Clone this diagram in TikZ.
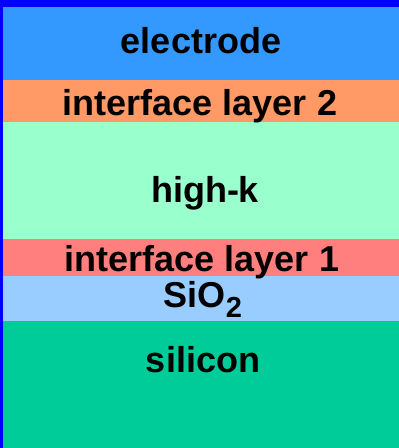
\documentclass[tikz,border=0pt]{standalone}
\usepackage{fontspec}
\setmainfont{Liberation Sans}
\definecolor{frameblue}{HTML}{0000FF}
\definecolor{electrodec}{HTML}{3399FF}
\definecolor{ifacetwo}{HTML}{FF9966}
\definecolor{highkc}{HTML}{99FFCC}
\definecolor{ifaceone}{HTML}{FF7F7F}
\definecolor{oxidec}{HTML}{99CCFF}
\definecolor{siliconc}{HTML}{00CC99}
\begin{document}
\begin{tikzpicture}[x=1pt,y=-1pt,
  layertext/.style={anchor=base,inner sep=0pt,font=\fontsize{36}{40}\selectfont\bfseries}]
\useasboundingbox (0,0) rectangle (399,448);
% outer frame
\fill[frameblue] (0,0) rectangle (399,448);
% film stack, top to bottom
\fill[electrodec] (3,7)   rectangle (399,80);
\fill[ifacetwo]   (3,80)  rectangle (399,122);
\fill[highkc]     (3,122) rectangle (399,239);
\fill[ifaceone]   (3,239) rectangle (399,276);
\fill[oxidec]     (3,276) rectangle (399,321);
\fill[siliconc]   (3,321) rectangle (399,448);
% layer labels
\node[layertext] (electrode) at (201,53)  {electrode};
\node[layertext] (if2)       at (200,115) {interface layer 2};
\node[layertext] (highk)     at (205,202) {high-k};
\node[layertext] (if1)       at (202,271) {interface layer 1};
\node[layertext] (oxide)     at (203,307) {SiO\raisebox{-10pt}{\fontsize{29}{32}\selectfont 2}};
\node[layertext] (silicon)   at (203,372) {silicon};
\end{tikzpicture}
\end{document}
